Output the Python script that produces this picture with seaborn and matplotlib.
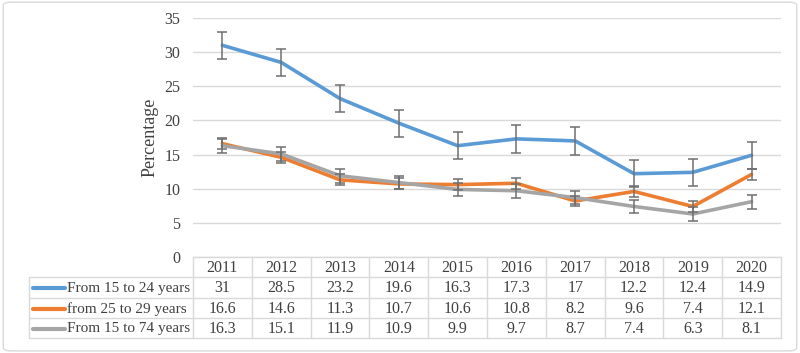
import numpy as np
import pandas as pd
import seaborn as sns
import matplotlib.pyplot as plt
from matplotlib.patches import FancyBboxPatch

years = ['2011', '2012', '2013', '2014', '2015', '2016', '2017', '2018', '2019', '2020']
series_names = ['From 15 to 24 years', 'from 25 to 29 years', 'From 15 to 74 years']
young = [31, 28.5, 23.2, 19.6, 16.3, 17.3, 17, 12.2, 12.4, 14.9]
mid = [16.6, 14.6, 11.3, 10.7, 10.6, 10.8, 8.2, 9.6, 7.4, 12.1]
total = [16.3, 15.1, 11.9, 10.9, 9.9, 9.7, 8.7, 7.4, 6.3, 8.1]
errors = [2.0, 0.8, 1.0]
colors = ['#5b9bd5', '#ed7d31', '#a5a5a5']

sns.set_style('white')
plt.rcParams['font.family'] = ['Liberation Serif', 'DejaVu Serif']
txt = '#404040'

df = pd.DataFrame({'year': years * 3,
                   'value': young + mid + total,
                   'series': np.repeat(series_names, len(years))})
df['x'] = np.tile(np.arange(len(years)), 3)

fig = plt.figure(figsize=(8, 3.53), dpi=100)
fig.patches.append(FancyBboxPatch((0.004, 0.006), 0.992, 0.988, boxstyle='round,pad=0,rounding_size=0.01',
                                  transform=fig.transFigure, fill=False, edgecolor='#d9d9d9', lw=1))

ax = fig.add_axes([193/800, (353-257)/353, 588/800, 239/353])
sns.lineplot(data=df, x='x', y='value', hue='series', palette=colors, linewidth=2.6,
             legend=False, ax=ax, zorder=3)
for vals, err in zip([young, mid, total], errors):
    ax.errorbar(np.arange(len(years)), vals, yerr=err, fmt='none', ecolor='#6f6f6f',
                elinewidth=1.1, capsize=3.5, capthick=1.1, zorder=4)

ax.set_xlim(-0.5, len(years) - 0.5)
ax.set_ylim(0, 35)
ax.set_yticks(range(0, 36, 5))
ax.set_xticks([])
ax.set_xlabel('')
ax.set_ylabel('Percentage', fontsize=13, color=txt, labelpad=4)
ax.tick_params(axis='y', labelsize=11.5, labelcolor=txt, length=0, pad=9)
ax.grid(axis='y', color='#d9d9d9', lw=1)
for s in ax.spines.values():
    s.set_visible(False)

# data table under the plot, sharing the category positions
colw = 588 / 10
left = -0.5 - 164 / colw
tax = fig.add_axes([29/800, (353-338)/353, 752/800, 81/353])
tax.set_xlim(left, len(years) - 0.5)
tax.set_ylim(4, 0)
tax.axis('off')
lc = '#d9d9d9'
tax.plot([-0.5, len(years) - 0.5], [0, 0], color=lc, lw=1, clip_on=False)
for r in range(1, 5):
    tax.plot([left, len(years) - 0.5], [r, r], color=lc, lw=1, clip_on=False)
for k in range(-1, len(years)):
    tax.plot([k + 0.5, k + 0.5], [0, 4], color=lc, lw=1, clip_on=False)
tax.plot([left, left], [1, 4], color=lc, lw=1, clip_on=False)

for i, y in enumerate(years):
    tax.text(i, 0.55, y, ha='center', va='center', fontsize=11.5, color=txt)
for r, (name, vals, c) in enumerate(zip(series_names, [young, mid, total], colors)):
    yy = r + 1.55
    tax.plot([left + 4/colw, left + 36/colw], [yy, yy], color=c, lw=3, solid_capstyle='round', clip_on=False)
    tax.text(left + 38/colw, yy, name, ha='left', va='center', fontsize=11, color=txt)
    for i, v in enumerate(vals):
        tax.text(i, yy, f'{v:g}', ha='center', va='center', fontsize=11.5, color=txt)

fig.savefig('out.png', dpi=100)
